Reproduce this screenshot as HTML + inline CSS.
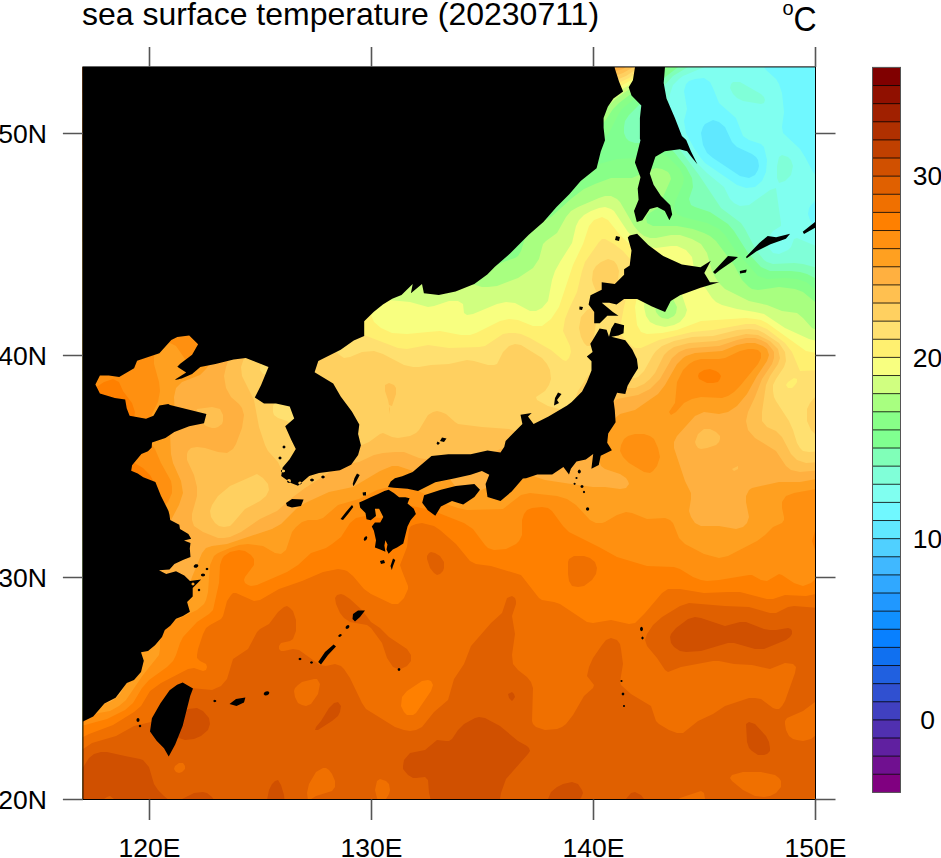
<!DOCTYPE html><html><head><meta charset="utf-8"><style>html,body{margin:0;padding:0;background:#fff;width:941px;height:858px;overflow:hidden}svg{display:block}text{font-family:"Liberation Sans",sans-serif;fill:#000}</style></head><body><svg width="941" height="858" viewBox="0 0 941 858"><clipPath id="pc"><rect x="82.90" y="66.90" width="732.60" height="732.60"/></clipPath><g clip-path="url(#pc)"><rect x="80.9" y="64.89999999999998" width="736.6" height="736.6" fill="#50d0ff"/>
<path fill="#60e8ff" fill-rule="evenodd" d="M77 61 821 61 821 805 77 805Z"/>
<path fill="#70f8ff" fill-rule="evenodd" d="M77 61 821 61 821 140 819 142 819 145 821 148 821 805 77 805ZM713 120 705 124 703 127 701 133 703 145 707 153 713 158 740 176 749 178 755 175 758 170 759 166 758 160 756 157 752 154 737 147 732 142 725 127 719 122Z"/>
<path fill="#80fff0" fill-rule="evenodd" d="M77 61 765 61 764 67 766 70 776 79 779 84 782 93 784 112 782 127 783 133 800 149 805 157 813 172 818 178 821 179 821 197 815 201 812 204 809 208 808 214 810 220 812 223 816 226 821 228 821 805 77 805ZM695 79 689 81 686 84 684 91 687 109 684 121 685 127 686 133 694 148 700 157 705 163 737 185 746 188 755 187 762 181 766 172 767 160 764 147 761 144 749 140 743 136 736 118 719 103 713 88 710 82 704 78Z"/>
<path fill="#80ffd8" fill-rule="evenodd" d="M77 61 712 61 707 66 683 76 679 79 673 85 670 94 668 109 669 121 673 130 698 164 707 173 724 187 730 199 734 203 740 206 749 205 770 190 776 188 781 223 781 226 773 231 768 238 767 241 768 247 773 253 779 254 788 250 791 247 794 239 797 238 821 248 821 805 77 805ZM733 82 740 82 761 94 764 97 765 100 764 103 761 104 755 103 743 101 737 98 733 94 730 88 731 84ZM779 157 782 155 788 157 791 160 793 166 791 175 785 181 779 183 777 178 777 166Z"/>
<path fill="#80ffb8" fill-rule="evenodd" d="M77 61 695 61 693 64 673 76 662 88 654 100 649 112 648 118 651 124 677 146 699 175 721 208 741 223 745 229 756 250 764 260 767 262 773 264 794 263 803 264 821 269 821 805 77 805Z"/>
<path fill="#80ff90" fill-rule="evenodd" d="M77 61 685 61 682 64 659 82 641 103 629 115 625 121 624 127 624 133 626 138 629 141 635 143 653 143 662 144 668 147 674 152 686 167 692 178 693 187 689 199 691 205 695 207 710 212 728 224 734 231 748 253 761 267 770 271 791 271 800 272 807 274 821 281 821 805 77 805Z"/>
<path fill="#88ff88" fill-rule="evenodd" d="M77 61 676 61 674 64 659 76 638 96 622 109 618 115 609 133 594 148 593 151 592 157 593 160 596 163 599 164 617 159 635 158 656 154 662 154 668 157 680 169 684 178 683 184 675 202 674 208 677 214 683 217 707 223 719 229 725 235 735 250 758 276 767 279 785 278 797 279 806 282 815 289 821 292 821 805 77 805ZM551 174 545 178 530 198 524 199 512 197 508 199 505 205 506 211 509 213 515 213 530 204 545 204 554 200 558 196 561 190 562 181 558 175 554 173Z"/>
<path fill="#a8ff80" fill-rule="evenodd" d="M77 61 669 61 667 64 644 84 619 103 613 109 605 121 599 127 578 139 566 149 548 155 542 158 527 175 521 177 506 172 503 172 498 175 487 190 479 208 473 217 470 220 467 220 452 215 446 216 441 220 437 226 436 232 436 238 440 244 443 246 461 247 464 248 467 253 468 262 472 268 479 271 485 271 503 262 515 258 518 256 521 251 525 238 531 229 536 225 551 217 572 198 584 189 595 184 611 178 632 178 650 170 656 168 662 169 668 172 670 175 671 179 659 206 656 209 648 214 646 217 647 223 653 226 677 226 693 229 704 233 710 236 716 241 734 265 742 280 749 287 752 289 758 290 779 287 795 289 803 292 821 307 821 805 77 805Z"/>
<path fill="#d0ff80" fill-rule="evenodd" d="M77 61 662 61 658 67 644 79 618 97 596 116 566 127 548 140 529 148 521 153 500 159 482 172 467 181 443 198 434 207 422 229 414 238 413 241 412 247 417 262 419 277 422 280 425 282 431 282 452 278 482 287 488 287 497 286 518 278 533 268 539 259 543 244 546 241 557 233 566 217 571 211 578 207 599 198 605 196 611 196 617 199 620 202 634 226 639 232 644 236 650 238 656 238 671 235 680 235 692 239 701 244 707 253 712 271 715 277 719 283 725 289 749 301 767 305 782 311 797 313 803 318 812 328 821 332 821 805 77 805ZM665 292 662 292 657 298 655 307 656 312 659 316 662 318 668 319 674 316 676 313 677 307 671 295 668 292Z"/>
<path fill="#f8ff80" fill-rule="evenodd" d="M77 61 657 61 652 67 638 80 619 91 596 107 565 118 545 131 539 134 506 142 479 161 458 170 446 177 420 199 413 214 411 217 392 228 385 235 368 256 366 262 367 268 377 290 383 297 389 300 410 302 428 307 434 306 449 301 458 301 463 304 464 313 467 315 473 314 497 304 506 302 515 303 530 311 536 311 542 308 548 301 552 280 555 271 560 262 572 243 576 226 579 220 584 215 591 211 599 208 605 207 611 209 614 211 628 232 635 239 644 245 650 247 656 248 671 246 677 246 686 250 692 257 695 274 704 286 712 298 716 302 722 305 737 309 755 312 764 314 785 328 809 339 821 342 821 805 77 805ZM662 273 656 277 650 286 645 298 644 307 646 316 650 322 656 325 665 327 674 325 680 322 685 316 687 310 682 295 681 280 680 277 676 274 671 273Z"/>
<path fill="#fff070" fill-rule="evenodd" d="M77 61 651 61 647 67 635 78 596 100 562 112 536 127 524 130 506 131 500 133 482 145 443 162 437 166 425 177 407 187 402 193 394 205 374 223 355 247 352 253 351 259 352 271 374 322 381 328 392 333 407 334 428 332 440 331 461 335 470 335 476 333 500 321 509 319 518 320 533 326 542 326 551 319 559 307 573 265 583 244 589 226 594 220 602 217 608 220 620 235 642 256 646 262 645 268 638 292 635 307 637 325 641 332 647 334 662 333 677 330 701 321 746 318 755 319 761 320 767 323 806 351 821 354 821 805 77 805Z"/>
<path fill="#ffe070" fill-rule="evenodd" d="M77 61 646 61 640 70 629 78 593 95 557 107 536 119 524 122 500 123 482 131 467 133 461 135 444 148 428 157 416 167 404 174 386 192 380 195 371 197 367 199 359 214 344 234 340 247 340 274 341 281 347 301 349 325 350 328 356 332 398 348 407 349 428 345 449 348 479 347 485 346 503 334 509 333 515 333 521 334 530 338 551 350 563 360 566 361 569 358 571 352 570 346 563 331 565 319 569 309 577 292 582 271 585 262 599 242 602 239 605 239 614 244 623 251 630 259 632 265 631 277 624 307 620 328 621 334 623 337 632 346 635 348 641 348 659 340 692 332 713 330 746 324 755 324 767 329 785 343 792 352 800 371 821 370 821 805 77 805ZM794 378 788 382 786 385 788 388 792 388 795 385 797 382 797 379Z"/>
<path fill="#ffd060" fill-rule="evenodd" d="M77 61 641 61 635 70 626 76 587 92 552 103 532 112 521 115 500 116 482 121 467 123 458 126 450 130 434 142 401 158 383 176 377 178 365 176 356 178 350 185 344 205 332 223 323 241 323 247 326 259 327 265 327 271 325 277 323 280 320 283 317 283 305 279 302 279 299 283 299 286 302 292 312 301 312 304 307 319 308 325 311 329 320 332 326 336 336 352 341 356 344 358 350 357 362 352 374 351 383 354 404 365 413 367 419 367 431 365 449 364 467 360 474 361 488 365 494 365 497 364 503 352 509 346 515 344 521 345 542 358 547 364 550 370 551 379 549 385 545 391 536 397 537 400 548 406 563 410 569 410 572 408 578 391 588 376 593 371 599 370 614 370 629 377 635 378 638 377 644 371 653 355 656 351 662 346 674 341 692 337 713 336 737 330 749 329 758 330 764 333 779 343 785 352 786 361 784 367 776 379 773 385 773 391 774 397 776 401 789 421 793 430 797 443 800 448 803 451 809 452 821 451 821 805 77 805ZM290 340 276 346 266 355 262 361 260 367 260 370 263 374 269 376 278 377 299 376 305 375 307 373 309 367 309 361 307 349 305 342 302 339 299 338ZM281 396 276 400 273 406 273 412 274 415 278 418 287 421 291 424 292 427 292 436 295 442 302 445 308 443 314 436 320 421 314 418 311 415 304 403 297 397 290 395ZM601 262 608 259 614 261 617 265 619 271 618 280 614 288 608 293 602 294 599 293 596 291 593 284 592 280 593 271 596 266ZM587 310 593 308 596 310 597 316 594 337 593 342 590 346 587 346 584 343 581 337 579 328 581 317ZM815 397 821 394 821 437 815 434 811 430 807 421 807 409 810 403Z"/>
<path fill="#ffc050" fill-rule="evenodd" d="M77 61 637 61 632 68 623 73 578 89 549 97 521 106 464 115 446 122 431 133 424 136 413 137 398 134 392 134 386 137 374 151 353 159 344 165 340 169 336 175 331 202 320 222 314 229 299 238 295 244 283 277 282 286 284 304 282 313 277 322 272 330 252 346 245 355 241 367 242 376 254 400 259 427 265 445 268 451 278 462 284 475 287 476 311 465 329 451 338 446 344 445 362 445 369 442 380 434 383 433 392 437 398 438 410 436 416 433 419 430 428 415 433 412 437 411 441 412 446 414 455 422 458 424 482 427 509 429 515 431 530 442 536 444 545 444 551 442 563 434 578 431 584 428 589 421 599 400 608 390 617 388 635 388 644 384 650 379 655 373 664 355 668 351 674 347 689 343 716 341 746 334 758 335 770 341 778 349 780 358 778 364 770 376 766 385 762 412 762 421 767 427 776 431 782 437 791 454 797 460 806 463 821 462 821 805 77 805 77 681 105 667 110 661 112 655 109 646 101 637 92 633 77 629ZM257 474 230 486 218 496 212 505 210 511 211 517 215 523 219 526 224 527 230 526 233 523 245 509 260 501 266 496 269 490 268 484 263 478ZM385 385 389 383 394 385 396 388 396 394 392 406 389 405 388 400 385 391ZM389 414 389 406 390 409Z"/>
<path fill="#ffb040" fill-rule="evenodd" d="M77 61 631 61 629 65 623 69 602 75 569 86 545 91 515 99 485 104 470 103 464 104 446 113 434 117 413 117 389 122 380 127 365 139 341 153 332 160 327 166 324 172 317 197 311 212 305 219 290 228 286 235 271 274 270 283 270 301 267 310 260 319 245 329 240 334 234 346 226 367 224 376 226 388 231 397 239 404 242 408 244 415 242 428 236 444 233 449 227 453 218 452 205 448 197 447 191 448 188 451 187 454 187 460 194 475 197 487 197 496 192 514 192 520 194 526 203 532 218 538 224 538 230 537 241 532 260 519 277 511 293 497 305 488 341 465 359 462 374 455 383 453 395 452 404 452 419 458 425 459 446 457 479 457 488 455 500 449 506 448 512 450 527 457 539 461 557 464 569 463 575 459 593 436 602 415 608 406 617 399 638 395 650 389 660 379 672 358 679 352 686 349 692 348 719 346 737 340 746 338 755 338 761 340 767 343 772 349 774 352 774 358 772 364 762 379 755 397 748 412 746 421 748 430 755 438 776 451 786 466 791 470 800 472 821 470 821 805 77 805 77 698 83 697 98 691 106 685 117 673 121 667 123 661 124 652 122 640 119 630 102 586 97 577 96 571 96 562 94 559 89 556 77 555ZM125 568 119 571 118 574 120 577 125 579 128 579 131 575 130 571 128 569ZM197 409 196 412 197 416 200 421 206 426 212 428 215 428 218 427 222 424 223 421 223 415 220 409 212 407ZM704 429 698 434 695 442 696 445 698 448 701 449 707 448 716 445 719 442 720 439 720 436 716 432 710 429ZM738 466 732 469 734 471 738 469Z"/>
<path fill="#ffa020" fill-rule="evenodd" d="M77 61 80 61 623 61 620 64 617 65 599 70 569 80 548 83 524 89 489 94 464 94 458 95 446 102 440 104 422 105 413 106 386 115 373 121 356 130 329 149 315 163 307 181 293 202 287 206 275 206 271 208 269 211 274 226 273 238 268 247 263 250 254 253 250 256 248 259 249 277 247 292 246 298 244 304 230 322 218 352 206 369 200 375 182 382 176 388 174 397 175 415 170 433 171 454 173 463 181 481 183 493 179 505 170 522 163 529 152 534 143 535 128 533 116 533 104 535 86 541 77 542ZM747 343 755 343 763 346 767 349 769 355 767 361 757 376 747 394 737 406 728 412 719 414 704 412 695 416 677 436 674 442 674 448 685 481 691 493 691 499 689 511 691 517 695 523 701 526 719 526 736 529 743 527 747 523 749 517 746 502 746 496 749 490 752 488 779 482 800 482 821 478 821 805 77 805 77 709 110 702 116 698 120 694 131 675 134 667 136 640 139 631 152 617 165 607 176 596 188 590 192 577 202 553 206 548 212 546 227 544 272 529 281 524 296 509 305 503 329 492 353 487 380 471 392 466 398 466 416 472 437 472 443 473 449 478 458 490 467 494 475 493 488 487 503 485 516 475 524 473 545 480 578 485 593 487 605 487 620 489 626 488 629 484 628 481 626 478 620 474 605 469 601 466 599 460 599 454 601 448 610 424 614 419 620 414 635 410 658 394 665 385 677 364 683 358 686 356 695 353 722 351 737 345Z"/>
<path fill="#ff9010" fill-rule="evenodd" d="M77 61 80 61 602 61 584 70 572 73 548 76 524 81 506 80 485 84 461 85 455 86 437 93 410 98 353 117 338 128 324 136 300 154 296 160 292 178 287 184 281 187 263 191 255 196 250 202 249 211 250 229 248 232 236 241 234 247 236 268 235 280 220 307 210 340 206 350 200 356 191 361 185 359 176 346 170 343 161 345 158 347 155 352 154 358 154 364 159 382 160 391 158 402 152 414 149 424 148 436 150 442 155 449 161 463 171 481 172 487 172 493 168 502 161 509 155 512 149 512 134 508 125 508 101 516 86 524 77 527ZM748 349 753 349 758 350 761 353 761 358 758 364 740 386 734 392 728 396 722 398 701 397 692 399 684 403 676 412 671 415 669 412 675 403 677 382 683 370 689 364 694 361 701 359 719 359 725 358 740 351ZM628 436 635 434 644 434 650 436 654 439 658 448 660 457 657 466 653 471 650 473 644 472 629 463 623 457 620 451 621 445 624 439ZM389 487 401 487 416 490 446 504 458 508 467 510 503 509 521 495 530 493 557 496 567 499 576 505 590 520 596 523 602 523 605 522 617 515 626 512 632 513 647 519 665 518 670 520 673 523 679 538 685 544 704 554 719 558 728 556 757 541 765 535 773 527 782 523 784 520 784 517 782 508 782 502 786 496 794 493 821 488 821 805 77 805 77 717 110 711 119 706 126 700 143 675 159 655 160 649 160 637 164 629 172 622 197 610 204 604 206 600 208 592 210 565 214 556 218 553 230 548 239 545 248 544 263 546 275 553 281 554 286 550 292 532 296 527 302 522 308 520 317 520 323 518 338 505 359 499 377 490Z"/>
<path fill="#ff8000" fill-rule="evenodd" d="M77 61 80 61 585 61 581 64 572 67 548 68 527 73 521 73 509 69 503 69 482 75 458 76 449 77 424 85 392 92 374 100 356 104 347 107 332 118 314 128 275 154 270 160 266 169 261 175 243 190 239 194 236 202 234 220 230 225 221 232 216 238 216 247 222 262 223 268 222 271 220 274 209 284 197 301 196 307 198 322 196 328 194 331 191 333 188 332 182 329 177 325 173 316 175 304 174 301 167 296 164 296 161 297 159 301 157 310 155 312 137 320 122 331 113 340 97 364 89 369 77 373ZM704 370 710 369 716 371 719 373 721 376 720 379 718 382 713 383 707 383 701 380 699 379 698 376 699 373ZM104 382 113 379 119 382 123 391 132 403 135 412 134 418 131 423 128 425 119 428 107 427 105 430 119 444 128 459 143 468 150 475 155 484 155 487 152 490 140 490 125 491 119 491 115 487 112 475 110 472 104 470 98 471 92 475 83 488 77 492 77 390 86 391 92 390ZM399 505 407 505 431 510 464 523 473 529 485 545 488 548 494 550 506 549 516 544 519 541 522 535 522 520 524 514 527 510 532 508 542 507 548 508 552 511 563 526 569 532 599 547 617 557 647 566 674 567 680 569 693 577 701 580 707 581 719 580 749 575 752 575 761 580 767 581 779 574 782 575 794 583 803 586 811 583 821 574 821 805 77 805 77 727 107 719 125 710 133 703 142 688 149 680 167 667 173 661 176 655 180 643 183 637 197 622 209 614 213 610 219 583 220 565 222 559 224 556 230 552 239 550 245 551 251 555 254 559 254 565 245 577 244 580 245 583 248 585 251 586 257 585 287 572 298 565 311 553 326 548 332 544 341 537 350 523 356 518 365 516 380 518 383 517 392 508ZM815 531 821 525 821 556 815 550 812 541Z"/>
<path fill="#f07000" fill-rule="evenodd" d="M77 61 80 61 490 61 487 64 479 66 443 65 431 68 410 75 392 75 385 76 380 79 371 87 365 90 347 94 341 96 326 109 308 118 290 132 262 142 258 145 254 150 242 172 227 188 215 214 205 223 200 229 196 241 194 245 188 248 176 246 170 248 158 263 144 274 134 285 125 290 113 291 112 295 110 308 107 312 104 314 101 314 92 307 86 304 77 305ZM77 357 77 332 86 335 89 340 89 343 86 352 82 355ZM77 454 77 434 83 439 86 444 86 448 83 453ZM411 526 416 524 422 523 434 526 440 530 456 544 470 561 476 564 491 566 521 575 539 598 542 600 554 602 560 604 587 622 593 623 611 620 629 624 635 623 645 613 662 593 668 589 680 589 704 593 728 592 740 592 767 599 773 599 785 595 806 596 821 593 821 805 77 805 77 740 89 734 113 725 134 712 141 706 150 691 161 683 188 669 194 668 203 671 206 670 207 667 206 664 200 661 197 658 197 655 198 649 203 634 206 628 210 625 221 619 223 616 227 601 231 595 233 593 236 593 254 601 260 600 279 589 302 581 323 572 338 569 344 570 347 571 353 576 364 589 371 594 392 604 398 604 404 598 408 589 408 586 402 571 400 565 407 547 409 529ZM422 681 407 691 402 697 401 706 404 712 407 715 413 715 416 713 431 691 433 685 431 681 428 680ZM574 556 584 556 590 558 595 562 597 568 596 574 592 580 584 586 578 587 572 586 569 581 568 574 568 562 569 559Z"/>
<path fill="#e06000" fill-rule="evenodd" d="M77 61 80 61 378 61 359 76 335 83 317 99 299 106 295 109 289 118 284 123 278 125 263 128 254 132 247 139 233 156 218 169 212 193 207 202 203 206 194 209 182 209 176 209 158 220 140 225 135 229 134 232 134 235 138 241 139 247 137 252 134 255 125 259 95 263 77 271ZM429 553 431 552 435 553 440 556 442 559 444 562 444 568 443 571 440 574 437 575 434 573 430 568 427 559 427 556ZM337 595 341 594 344 595 350 599 362 610 371 622 380 628 389 637 407 649 411 655 411 658 411 661 407 666 401 669 398 669 393 667 387 658 382 643 371 628 367 625 350 622 344 618 340 613 336 604 335 598ZM507 598 512 596 515 598 516 601 516 604 512 616 515 634 512 655 513 664 518 670 527 677 531 682 533 688 532 721 533 724 536 727 545 730 557 729 562 727 566 724 573 715 584 696 593 688 594 685 587 676 589 667 593 658 602 645 606 640 611 638 617 640 620 644 621 649 623 664 620 682 621 685 631 694 651 706 652 709 656 721 659 724 669 730 677 733 683 733 698 721 713 714 725 706 749 698 755 698 761 699 773 708 776 709 779 709 782 706 785 701 795 673 796 667 793 664 785 663 770 669 752 665 734 664 719 661 713 661 681 667 668 672 665 670 657 658 647 646 645 640 647 634 653 625 662 617 680 606 689 603 725 606 749 607 770 613 776 613 788 607 794 606 821 608 821 699 815 702 803 711 787 718 785 721 785 724 786 730 789 736 793 739 797 740 803 741 811 739 821 731 821 795 812 799 807 805 706 805 704 793 701 791 680 798 676 802 675 805 77 805 77 753 92 743 116 736 134 726 155 721 161 715 167 700 180 691 191 688 212 690 221 686 227 679 233 659 248 649 257 632 260 629 269 624 278 612 284 607 287 606 290 608 293 611 296 620 296 631 293 639 290 641 281 643 279 646 279 649 281 651 284 651 293 649 299 650 320 665 326 666 335 664 341 666 344 669 350 678 362 703 366 709 395 727 404 730 410 731 416 730 422 727 434 712 448 700 454 679 464 664 471 646 491 623 502 613 506 601ZM743 772 732 775 730 778 732 781 743 790 755 796 764 797 770 796 776 793 781 787 781 781 779 778 775 775 761 772ZM179 763 175 766 174 769 176 772 179 773 182 772 185 769 185 766 183 763ZM314 679 302 682 298 685 295 688 294 691 295 697 298 703 302 705 306 706 311 704 318 694 320 684 317 679ZM323 768 316 772 309 784 307 793 308 801 316 796 332 791 335 787 335 781 332 774 329 770 326 768ZM380 779 377 781 375 790 377 798 380 805 383 804 389 794 390 790 389 784 386 781Z"/>
<path fill="#d05000" fill-rule="evenodd" d="M77 61 353 61 356 61 350 65 332 69 308 83 287 86 281 90 269 101 254 107 249 112 244 124 240 130 230 141 221 145 215 145 203 142 197 144 187 151 179 161 167 165 162 169 158 175 157 178 157 181 162 193 161 199 158 202 152 205 140 203 134 205 113 223 101 238 92 241 77 242ZM182 172 185 171 188 172 194 177 196 181 198 187 196 190 194 192 188 191 182 187 180 181ZM688 619 695 617 701 618 725 626 740 622 746 622 764 629 770 630 776 630 788 628 791 629 792 631 792 634 790 637 786 640 764 649 755 649 734 643 728 643 701 651 686 652 680 651 674 647 671 643 670 637 671 634 676 628ZM508 694 512 692 514 694 515 697 513 700 512 701 509 698ZM334 703 338 702 341 706 340 712 338 716 332 721 318 730 315 730 316 727 321 721 329 708ZM188 709 197 708 203 711 209 718 210 724 208 730 201 736 194 739 185 740 179 738 176 736 175 733 174 727 179 717 183 712ZM475 718 479 717 485 718 500 726 518 741 527 746 529 748 530 751 528 754 506 779 501 793 499 805 432 805 429 793 428 780 425 777 416 778 413 778 408 775 403 769 403 766 404 760 410 753 425 750 437 740 446 741 449 741 452 739 458 730 464 724ZM746 724 749 722 755 724 766 736 769 742 770 748 770 751 767 754 764 755 758 755 752 751 749 748 747 742ZM94 754 101 752 107 752 125 756 140 759 143 760 149 767 154 784 158 790 164 796 170 801 176 802 194 793 203 792 207 793 212 797 215 801 216 805 117 805 114 799 110 796 107 797 104 799 101 805 77 805 77 774 80 772 89 758ZM275 781 278 780 281 785 284 795 285 805 266 805 269 790 272 784ZM563 784 572 782 578 784 582 790 583 793 581 798 573 805 547 805 548 799 551 792 557 787ZM631 793 635 792 641 795 644 799 647 805 625 805 626 799Z"/>
<path fill="#c04000" fill-rule="evenodd" d="M77 61 80 61 309 61 284 67 278 71 268 82 263 85 257 88 239 92 230 96 212 114 182 133 167 140 161 143 155 150 140 169 119 189 113 189 104 183 98 182 92 184 83 190 77 192Z"/>
<path fill="#b03000" fill-rule="evenodd" d="M77 61 80 61 263 61 259 67 251 73 227 78 215 83 195 103 176 110 168 115 149 136 140 143 134 144 131 144 122 137 119 136 116 137 113 142 114 154 113 160 109 163 92 168 77 175Z"/>
<path fill="#a02000" fill-rule="evenodd" d="M77 61 80 61 221 61 203 71 188 88 179 93 170 96 164 96 146 93 140 93 132 97 119 108 110 111 101 112 95 110 89 106 77 104ZM77 146 77 117 89 118 92 119 95 123 95 130 94 136 91 142 86 145Z"/>
<path fill="#901000" fill-rule="evenodd" d="M77 61 80 61 140 61 136 73 128 82 116 91 110 93 104 93 92 92 77 93Z"/>
<path fill="#800000" fill-rule="evenodd" d="M83 61 86 61 119 61 115 70 110 76 101 77 86 73 80 78 77 80 77 68 83 68 84 67Z"/>
<path fill="#000" d="M82.0 722.0 93.2 716.5 104.4 703.4 115.6 697.8 126.8 682.9 134.0 680.0 141.0 671.9 143.8 660.7 141.0 652.3 148.0 651.0 155.0 645.3 162.0 637.0 164.8 630.0 170.3 625.7 176.0 618.7 182.9 616.0 189.9 611.7 187.1 602.0 192.7 596.4 192.7 588.0 201.1 579.6 190.0 581.0 184.3 575.4 176.0 571.2 166.2 574.0 159.0 570.2 169.5 569.5 174.4 564.0 183.5 559.8 190.5 557.0 189.8 548.6 190.5 543.0 184.0 540.5 191.2 538.8 188.4 533.9 180.0 529.0 179.3 524.8 170.2 519.9 169.5 515.0 168.5 510.9 161.0 496.0 155.4 482.0 143.3 477.3 137.7 473.6 131.2 470.8 132.1 465.2 141.4 454.0 148.0 451.2 151.7 447.5 152.0 442.6 165.4 438.1 174.3 432.1 189.2 426.2 204.0 423.2 206.4 414.1 188.2 409.5 170.0 405.0 168.3 403.9 159.4 405.4 153.5 415.8 146.0 418.8 129.6 415.8 126.7 408.3 125.2 399.4 114.8 397.9 99.9 393.5 95.4 384.5 99.9 375.6 108.8 375.6 119.2 377.1 134.1 368.2 137.1 360.7 159.4 353.3 171.3 339.9 177.3 336.9 189.2 335.4 198.1 344.3 192.1 354.8 180.2 363.7 177.3 366.7 186.2 372.6 174.3 380.1 181.7 378.6 192.1 374.1 200.3 367.1 215.5 364.0 233.6 359.5 245.8 358.0 261.0 364.0 268.5 367.1 261.0 385.3 254.8 397.4 264.0 403.5 276.0 403.5 289.7 406.5 294.2 418.6 285.2 426.2 291.2 439.8 295.8 449.0 289.6 459.2 282.6 467.6 281.2 476.0 291.0 483.0 298.0 485.7 309.2 476.0 319.0 473.1 328.7 471.7 339.9 470.3 351.1 464.8 358.1 455.0 360.9 445.2 358.1 434.0 359.3 424.4 351.9 411.4 340.7 396.5 333.2 383.4 314.6 372.2 318.3 361.0 340.7 349.8 353.8 340.5 364.2 336.1 364.2 321.2 373.6 311.9 382.9 304.4 392.2 298.8 401.5 295.1 412.7 283.9 410.9 293.2 422.0 283.9 423.9 293.2 438.8 295.1 455.6 291.4 474.3 283.9 487.3 274.6 494.9 266.8 509.8 253.8 528.5 235.1 543.4 222.0 556.5 207.1 569.5 194.1 580.7 181.0 596.6 168.3 600.8 151.5 605.0 140.3 603.6 127.7 603.6 118.0 607.8 106.8 613.4 98.4 623.1 91.4 619.0 81.6 614.8 68.3 614.0 60.0 60.0 60.0 60.0 722.0ZM635.0 60.0 635.0 67.0 632.9 80.2 628.7 87.2 631.5 95.6 641.3 105.4 639.9 118.0 639.9 138.9 640.5 140.0 634.9 162.4 640.5 177.3 637.7 188.5 638.6 199.7 634.0 210.9 636.8 222.0 642.4 220.2 649.8 209.0 657.3 207.1 664.8 210.9 669.4 220.2 672.2 214.6 670.3 205.3 661.0 195.9 653.6 184.8 649.8 173.6 655.4 156.8 664.8 151.2 679.7 149.3 687.1 151.2 692.7 158.6 697.4 164.2 690.9 151.2 686.2 140.0 681.9 136.1 674.9 118.0 666.5 98.4 663.7 83.0 665.0 67.0 665.0 60.0ZM629.7 235.6 637.1 233.7 648.3 244.9 663.2 256.1 681.9 264.5 700.5 267.3 710.8 260.8 704.3 272.9 709.9 282.2 719.2 282.2 700.5 287.8 680.0 295.3 670.7 300.9 665.1 312.0 652.0 306.5 637.1 299.0 624.1 299.0 616.6 304.6 609.2 302.7 601.7 302.7 612.9 312.0 618.5 315.8 607.3 315.8 599.8 323.2 594.2 323.2 594.2 312.0 588.6 304.6 590.5 295.3 601.7 289.7 601.7 282.2 614.8 284.1 624.1 274.8 624.1 269.2 629.7 265.4 631.5 250.5 627.8 237.5ZM599.6 328.6 606.6 329.8 609.0 336.8 611.3 328.6 614.8 322.8 624.1 325.2 623.5 333.3 618.3 335.6 611.3 336.8 625.3 340.3 632.3 349.6 636.9 359.0 638.1 368.3 632.3 377.6 627.6 385.8 625.3 393.9 617.1 392.7 613.6 400.9 614.8 410.0 615.6 422.2 608.2 433.4 607.2 442.7 611.9 450.2 600.7 455.8 598.8 465.1 591.4 468.8 593.2 453.9 585.8 459.5 576.5 461.4 570.9 468.8 569.0 474.4 563.4 467.0 552.2 474.4 537.3 474.4 526.1 478.2 522.9 478.5 511.7 491.5 500.5 500.9 487.5 497.1 485.6 484.1 489.3 474.8 481.9 471.0 470.7 474.8 453.9 478.5 435.3 482.2 418.0 490.9 407.5 488.8 393.8 487.7 388.0 487.0 390.7 481.4 394.9 478.3 402.2 476.2 412.7 472.0 420.3 465.4 431.5 456.1 448.3 454.2 470.7 454.2 487.5 450.5 500.5 452.4 504.3 446.8 505.6 440.9 514.9 431.5 522.4 424.1 520.5 414.8 531.7 412.9 528.0 416.6 533.6 424.1 548.5 416.6 567.1 405.4 571.7 402.1 582.1 391.6 586.8 382.3 591.5 370.6 591.5 361.3 586.8 356.6 592.6 352.0 590.3 343.8 592.6 340.3ZM424.1 495.3 440.9 489.7 455.8 485.9 474.4 484.1 480.0 489.7 474.4 497.1 463.2 504.6 452.0 500.9 440.9 506.5 435.3 515.8 427.8 510.2 422.2 502.7ZM388.6 489.8 393.8 493.0 399.1 497.2 405.4 497.2 409.6 498.2 407.5 503.5 413.8 508.7 415.9 514.0 410.6 520.3 407.5 526.6 405.4 535.0 403.3 543.4 397.0 547.6 392.8 549.6 388.6 553.8 386.5 549.6 387.5 544.4 385.4 540.2 384.4 545.5 385.4 551.7 380.2 549.6 374.9 547.6 376.0 540.2 373.9 530.8 371.8 526.6 374.9 522.4 380.2 522.4 383.3 517.1 379.1 508.7 374.9 508.7 376.0 516.1 370.7 520.3 366.5 519.2 365.5 512.9 360.2 507.7 359.2 502.4 364.4 500.3 370.7 497.2 378.1 494.0 384.4 490.9ZM182.7 682.5 193.0 688.5 190.2 696.0 186.4 710.9 182.7 725.8 175.2 744.4 168.7 756.5 164.0 748.2 156.6 740.7 150.0 731.4 151.9 718.3 160.3 703.4 169.6 690.3 177.1 684.8ZM713.0 272.0 728.0 256.0 738.0 257.0 733.0 261.0 720.0 270.0 715.0 274.0ZM746.0 256.9 759.3 242.9 767.7 236.0 776.1 237.3 790.1 233.8 785.9 238.7 770.5 244.3 756.5 251.3 746.7 258.3ZM802.7 231.7 815.0 222.0 820.0 219.0 820.0 225.0 804.0 234.0ZM739.8 271.0 746.7 269.5 746.0 272.5 740.0 273.5ZM286.0 503.0 292.0 499.0 303.6 499.5 301.0 506.0 292.0 507.4 287.0 506.0ZM357.0 473.5 359.7 475.0 356.0 482.0 353.5 486.3 352.7 484.0 354.5 478.0ZM558.0 392.4 561.5 394.0 557.0 400.0 559.0 403.0 554.0 405.4 555.0 398.0ZM340.5 519.0 346.0 512.0 352.0 505.0 353.3 507.0 348.0 514.0 343.0 520.0ZM442.0 437.5 446.5 438.5 444.0 442.0 440.0 441.0ZM437.5 441.5 440.0 443.0 438.0 445.0 436.5 443.5ZM393.0 558.6 395.3 560.0 393.0 566.0 391.8 570.0 390.5 566.0ZM380.0 561.0 384.0 560.0 385.0 563.0 381.0 564.0ZM579.5 306.5 583.0 307.0 582.0 310.0 579.3 309.5ZM616.0 236.0 620.0 237.0 619.0 241.0 615.0 240.0ZM362.6 492.5 366.0 492.0 366.0 495.6 363.0 495.6ZM353.0 614.0 358.0 610.5 365.0 610.5 360.0 617.0 355.0 621.5 352.5 619.0ZM349.2 625.6 349.4 626.9 348.5 628.2 347.0 628.9 345.8 628.4 345.6 627.1 346.5 625.8 348.0 625.1ZM341.6 634.6 341.6 635.7 340.6 636.6 339.4 636.9 338.4 636.4 338.4 635.3 339.4 634.4 340.6 634.1ZM333.6 644.6 336.0 646.5 328.0 655.0 321.0 664.5 318.2 662.0 325.0 652.0ZM301.5 659.0 301.1 659.8 300.0 660.2 298.9 659.8 298.5 659.0 298.9 658.2 300.0 657.8 301.1 658.2ZM313.0 662.5 312.6 663.3 311.5 663.7 310.4 663.3 310.0 662.5 310.4 661.7 311.5 661.3 312.6 661.7ZM400.4 669.5 400.0 670.5 399.0 670.9 398.0 670.5 397.6 669.5 398.0 668.5 399.0 668.1 400.0 668.5ZM229.5 704.0 236.0 699.0 245.4 697.5 244.0 702.5 236.5 706.0ZM269.3 692.3 269.0 693.9 267.2 695.2 265.0 695.4 263.7 694.3 264.0 692.7 265.8 691.4 268.0 691.2ZM216.4 701.0 215.9 701.8 214.8 702.2 213.7 701.8 213.2 701.0 213.7 700.2 214.8 699.8 215.9 700.2ZM139.6 720.0 139.1 721.4 138.0 722.0 136.9 721.4 136.4 720.0 136.9 718.6 138.0 718.0 139.1 718.6ZM141.3 726.0 140.9 726.9 140.0 727.3 139.1 726.9 138.7 726.0 139.1 725.1 140.0 724.7 140.9 725.1ZM580.9 471.6 580.4 473.0 579.3 473.6 578.2 473.0 577.7 471.6 578.2 470.2 579.3 469.6 580.4 470.2ZM577.6 478.0 577.3 478.8 576.5 479.1 575.7 478.8 575.4 478.0 575.7 477.2 576.5 476.9 577.3 477.2ZM575.7 483.8 575.4 484.6 574.6 484.9 573.8 484.6 573.5 483.8 573.8 483.0 574.6 482.7 575.4 483.0ZM583.6 486.5 583.1 487.6 582.0 488.1 580.9 487.6 580.4 486.5 580.9 485.4 582.0 484.9 583.1 485.4ZM585.2 492.0 584.8 492.8 584.0 493.2 583.2 492.8 582.8 492.0 583.2 491.2 584.0 490.8 584.8 491.2ZM589.3 509.0 588.8 510.2 587.6 510.7 586.4 510.2 585.9 509.0 586.4 507.8 587.6 507.3 588.8 507.8ZM643.0 629.0 642.6 630.6 641.5 631.2 640.4 630.6 640.0 629.0 640.4 627.4 641.5 626.8 642.6 627.4ZM643.7 638.0 643.3 639.1 642.5 639.5 641.7 639.1 641.3 638.0 641.7 636.9 642.5 636.5 643.3 636.9ZM622.6 681.0 622.3 681.8 621.5 682.1 620.7 681.8 620.4 681.0 620.7 680.2 621.5 679.9 622.3 680.2ZM624.4 694.0 624.0 695.0 623.0 695.4 622.0 695.0 621.6 694.0 622.0 693.0 623.0 692.6 624.0 693.0ZM625.1 706.0 624.8 706.8 624.0 707.1 623.2 706.8 622.9 706.0 623.2 705.2 624.0 704.9 624.8 705.2ZM198.3 565.1 198.1 566.6 196.6 567.7 194.8 567.8 193.7 566.9 193.9 565.4 195.4 564.3 197.2 564.2ZM205.2 575.0 204.6 576.1 203.0 576.6 201.4 576.1 200.8 575.0 201.4 573.9 203.0 573.4 204.6 573.9ZM194.6 584.0 194.1 585.1 193.0 585.6 191.9 585.1 191.4 584.0 191.9 582.9 193.0 582.4 194.1 582.9ZM208.4 569.0 208.0 569.8 207.0 570.2 206.0 569.8 205.6 569.0 206.0 568.2 207.0 567.8 208.0 568.2ZM200.3 590.0 199.9 590.9 199.0 591.3 198.1 590.9 197.7 590.0 198.1 589.1 199.0 588.7 199.9 589.1ZM285.2 471.0 284.6 472.1 283.0 472.6 281.4 472.1 280.8 471.0 281.4 469.9 283.0 469.4 284.6 469.9ZM291.0 481.0 290.4 482.4 289.0 483.0 287.6 482.4 287.0 481.0 287.6 479.6 289.0 479.0 290.4 479.6ZM301.8 483.0 301.3 484.1 300.0 484.5 298.7 484.1 298.2 483.0 298.7 481.9 300.0 481.5 301.3 481.9ZM314.0 480.0 313.4 481.1 312.0 481.6 310.6 481.1 310.0 480.0 310.6 478.9 312.0 478.4 313.4 478.9ZM324.8 477.0 324.3 478.0 323.0 478.4 321.7 478.0 321.2 477.0 321.7 476.0 323.0 475.6 324.3 476.0ZM281.6 458.0 281.1 459.1 280.0 459.6 278.9 459.1 278.4 458.0 278.9 456.9 280.0 456.4 281.1 456.9ZM285.5 447.0 285.1 448.1 284.0 448.5 282.9 448.1 282.5 447.0 282.9 445.9 284.0 445.5 285.1 445.9ZM366.8 539.2 365.5 540.6 364.2 540.7 363.7 539.5 364.2 537.8 365.5 536.4 366.8 536.3 367.3 537.5Z"/></g><rect x="82.90" y="66.90" width="732.60" height="732.60" fill="none" stroke="#000" stroke-width="1"/><path d="M149.50 799.50V820.00M149.50 66.90V46.90M371.50 799.50V820.00M371.50 66.90V46.90M593.50 799.50V820.00M593.50 66.90V46.90M815.50 799.50V820.00M815.50 66.90V46.90M82.90 799.50H62.90M815.50 799.50H835.50M82.90 577.50H62.90M815.50 577.50H835.50M82.90 355.50H62.90M815.50 355.50H835.50M82.90 133.50H62.90M815.50 133.50H835.50" stroke="#555" stroke-width="1.6" fill="none"/><text x="149.50" y="857" font-size="26.5" text-anchor="middle">120E</text><text x="371.50" y="857" font-size="26.5" text-anchor="middle">130E</text><text x="593.50" y="857" font-size="26.5" text-anchor="middle">140E</text><text x="815.50" y="857" font-size="26.5" text-anchor="middle">150E</text><text x="46.8" y="808.80" font-size="26.5" text-anchor="end">20N</text><text x="46.8" y="586.80" font-size="26.5" text-anchor="end">30N</text><text x="46.8" y="364.80" font-size="26.5" text-anchor="end">40N</text><text x="46.8" y="142.80" font-size="26.5" text-anchor="end">50N</text><text x="82" y="25" font-size="32">sea surface temperature (20230711)</text><text x="782.5" y="15" font-size="20">o</text><text x="793.5" y="0" font-size="32" transform="translate(0 30.5) scale(1 1.1)">C</text><rect x="872.5" y="67.40" width="28.0" height="18.43" fill="#800000"/><rect x="872.5" y="85.53" width="28.0" height="18.43" fill="#901000"/><rect x="872.5" y="103.65" width="28.0" height="18.43" fill="#a02000"/><rect x="872.5" y="121.78" width="28.0" height="18.43" fill="#b03000"/><rect x="872.5" y="139.90" width="28.0" height="18.43" fill="#c04000"/><rect x="872.5" y="158.03" width="28.0" height="18.43" fill="#d05000"/><rect x="872.5" y="176.15" width="28.0" height="18.43" fill="#e06000"/><rect x="872.5" y="194.28" width="28.0" height="18.43" fill="#f07000"/><rect x="872.5" y="212.40" width="28.0" height="18.43" fill="#ff8000"/><rect x="872.5" y="230.53" width="28.0" height="18.43" fill="#ff9010"/><rect x="872.5" y="248.65" width="28.0" height="18.43" fill="#ffa020"/><rect x="872.5" y="266.77" width="28.0" height="18.43" fill="#ffb040"/><rect x="872.5" y="284.90" width="28.0" height="18.43" fill="#ffc050"/><rect x="872.5" y="303.02" width="28.0" height="18.43" fill="#ffd060"/><rect x="872.5" y="321.15" width="28.0" height="18.43" fill="#ffe070"/><rect x="872.5" y="339.27" width="28.0" height="18.43" fill="#fff070"/><rect x="872.5" y="357.40" width="28.0" height="18.43" fill="#f8ff80"/><rect x="872.5" y="375.52" width="28.0" height="18.43" fill="#d0ff80"/><rect x="872.5" y="393.65" width="28.0" height="18.43" fill="#a8ff80"/><rect x="872.5" y="411.77" width="28.0" height="18.43" fill="#88ff88"/><rect x="872.5" y="429.90" width="28.0" height="18.43" fill="#80ff90"/><rect x="872.5" y="448.02" width="28.0" height="18.43" fill="#80ffb8"/><rect x="872.5" y="466.15" width="28.0" height="18.43" fill="#80ffd8"/><rect x="872.5" y="484.27" width="28.0" height="18.43" fill="#80fff0"/><rect x="872.5" y="502.40" width="28.0" height="18.43" fill="#70f8ff"/><rect x="872.5" y="520.52" width="28.0" height="18.43" fill="#60e8ff"/><rect x="872.5" y="538.65" width="28.0" height="18.43" fill="#50d0ff"/><rect x="872.5" y="556.77" width="28.0" height="18.43" fill="#40b8ff"/><rect x="872.5" y="574.90" width="28.0" height="18.43" fill="#30a8ff"/><rect x="872.5" y="593.02" width="28.0" height="18.43" fill="#2098ff"/><rect x="872.5" y="611.15" width="28.0" height="18.43" fill="#1090ff"/><rect x="872.5" y="629.27" width="28.0" height="18.43" fill="#0880ff"/><rect x="872.5" y="647.40" width="28.0" height="18.43" fill="#1070f0"/><rect x="872.5" y="665.52" width="28.0" height="18.43" fill="#2060e0"/><rect x="872.5" y="683.65" width="28.0" height="18.43" fill="#3050d0"/><rect x="872.5" y="701.77" width="28.0" height="18.43" fill="#4040c0"/><rect x="872.5" y="719.90" width="28.0" height="18.43" fill="#5030b0"/><rect x="872.5" y="738.02" width="28.0" height="18.43" fill="#6020a0"/><rect x="872.5" y="756.15" width="28.0" height="18.43" fill="#701090"/><rect x="872.5" y="774.27" width="28.0" height="18.43" fill="#800080"/><path d="M872.5 85.53h28.0M872.5 103.65h28.0M872.5 121.78h28.0M872.5 139.90h28.0M872.5 158.03h28.0M872.5 176.15h28.0M872.5 194.28h28.0M872.5 212.40h28.0M872.5 230.53h28.0M872.5 248.65h28.0M872.5 266.77h28.0M872.5 284.90h28.0M872.5 303.02h28.0M872.5 321.15h28.0M872.5 339.27h28.0M872.5 357.40h28.0M872.5 375.52h28.0M872.5 393.65h28.0M872.5 411.77h28.0M872.5 429.90h28.0M872.5 448.02h28.0M872.5 466.15h28.0M872.5 484.27h28.0M872.5 502.40h28.0M872.5 520.52h28.0M872.5 538.65h28.0M872.5 556.77h28.0M872.5 574.90h28.0M872.5 593.02h28.0M872.5 611.15h28.0M872.5 629.27h28.0M872.5 647.40h28.0M872.5 665.52h28.0M872.5 683.65h28.0M872.5 701.77h28.0M872.5 719.90h28.0M872.5 738.02h28.0M872.5 756.15h28.0M872.5 774.27h28.0" stroke="#000" stroke-width="1" opacity="0.8"/><rect x="872.5" y="67.4" width="28.0" height="725.00" fill="none" stroke="#555" stroke-width="1"/><text x="927.5" y="729.20" font-size="26.5" text-anchor="middle">0</text><text x="927.5" y="547.95" font-size="26.5" text-anchor="middle">10</text><text x="927.5" y="366.70" font-size="26.5" text-anchor="middle">20</text><text x="927.5" y="185.45" font-size="26.5" text-anchor="middle">30</text></svg></body></html>
